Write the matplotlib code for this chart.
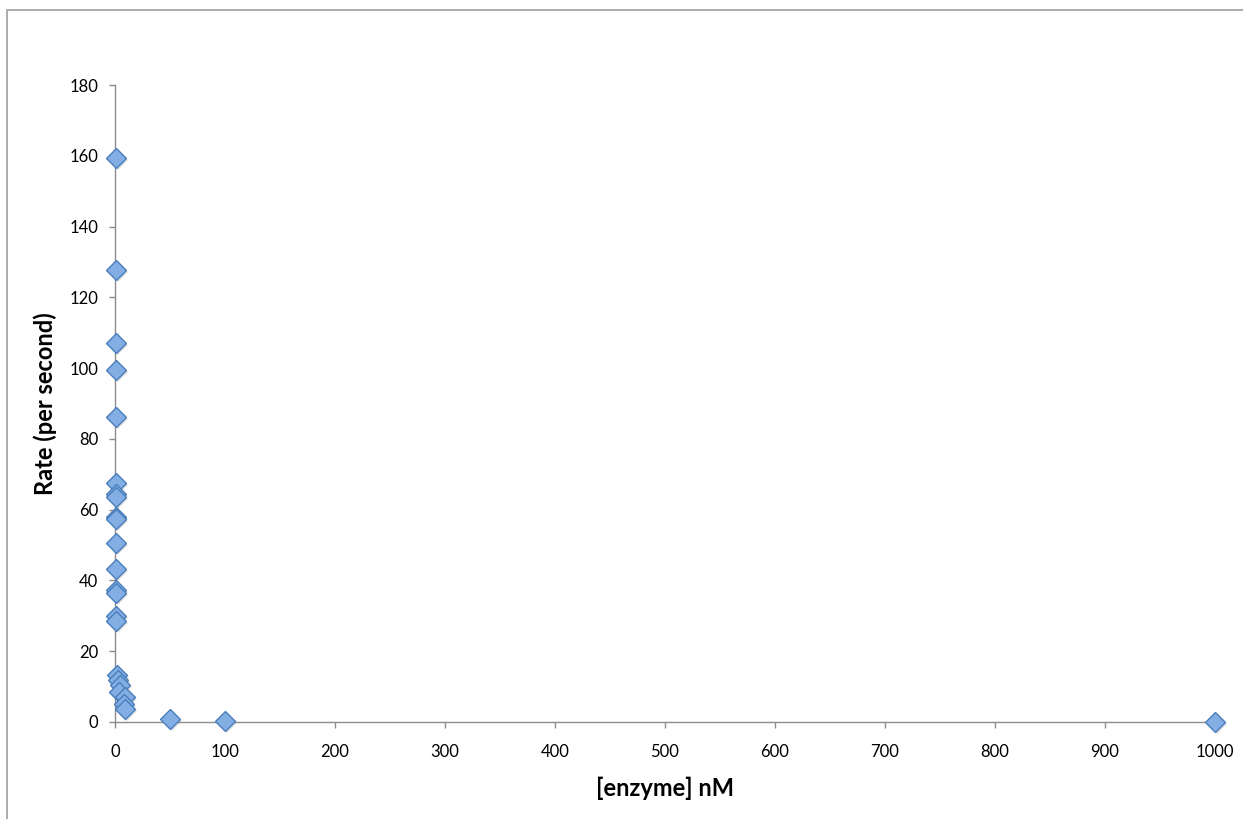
import matplotlib.pyplot as plt
from matplotlib.patches import Rectangle
from matplotlib.transforms import ScaledTranslation

# enzyme concentration (nM) and measured rate (per second)
enzyme_nM = [0.5, 0.5, 0.5, 0.5, 0.5,
             0.5, 1, 0.5, 1, 0.5, 0.5, 0.5, 1, 0.5, 1, 0.5,
             1.5, 2.5, 4.5, 3.5, 9, 8.5, 9.5,
             50, 100, 1000]
rate = [159.3, 127.8, 107.2, 99.6, 86.2,
        67.5, 64.5, 63.5, 58.0, 57.4, 50.6, 43.2, 37.4, 36.5, 29.9, 28.5,
        13.3, 12.0, 10.5, 8.4, 7.0, 5.0, 3.8,
        0.8, 0.4, 0.1]

x_ticks = [0, 100, 200, 300, 400, 500, 600, 700, 800, 900, 1000]
y_ticks = [0, 20, 40, 60, 80, 100, 120, 140, 160, 180]

plt.rcParams['font.family'] = ['Lato', 'DejaVu Sans']

fig = plt.figure(figsize=(12.43, 8.19), dpi=100)
ax = fig.add_axes([115 / 1243, 1 - 722 / 819, 1100 / 1243, (722 - 85) / 819])

# faint shadow under each marker, then the marker itself
shadow = ax.transData + ScaledTranslation(2 / 100, -2 / 100, fig.dpi_scale_trans)
ax.plot(enzyme_nM, rate, linestyle='none', marker='D', markersize=10.5,
        color='#9a9a9a', alpha=0.3, markeredgewidth=0,
        transform=shadow, clip_on=False, zorder=2)
ax.plot(enzyme_nM, rate, linestyle='none', marker='D', markersize=10.5,
        markerfacecolor='#82aee3', markeredgecolor='#4a7ebb', markeredgewidth=1,
        clip_on=False, zorder=3)

ax.set_xlim(0, 1000)
ax.set_ylim(0, 180)
ax.set_xticks(x_ticks)
ax.set_yticks(y_ticks)

for s in ['top', 'right']:
    ax.spines[s].set_visible(False)
for s in ['left', 'bottom']:
    ax.spines[s].set_color('#8c8c8c')
    ax.spines[s].set_linewidth(1)

ax.tick_params(axis='both', direction='out', length=4, width=1, color='#8c8c8c',
               labelsize=12, labelcolor='black')
ax.tick_params(axis='x', pad=12)
ax.tick_params(axis='y', pad=8)

ax.set_xlabel('[enzyme] nM', fontsize=17, fontweight='bold', labelpad=12)
ax.set_ylabel('Rate (per second)', fontsize=17, fontweight='bold', labelpad=9)

# chart area border
fig.patches.append(Rectangle((7 / 1243, -0.1), 1.2, 1 - 10 / 819 + 0.1,
                             transform=fig.transFigure, fill=False,
                             edgecolor='#a6a6a6', linewidth=1.3))

fig.savefig('out.png', dpi=100)
